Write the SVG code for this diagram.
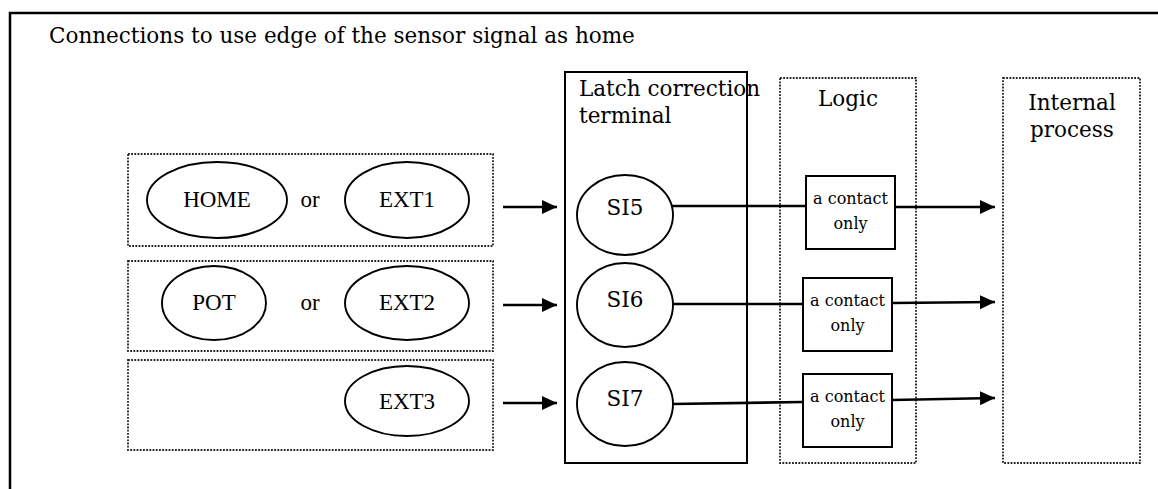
<svg xmlns="http://www.w3.org/2000/svg" width="1158" height="489" viewBox="0 0 1158 489">
<style>
.frame{fill:none;stroke:#000;stroke-width:2.5}
.dot{fill:none;stroke:#222;stroke-width:1.8;stroke-dasharray:1.8 1.4}
.solid{fill:#fff;stroke:#000;stroke-width:2}
.ell{fill:#fff;stroke:#000;stroke-width:1.9}
.cen{font-family:"DejaVu Serif","Liberation Serif",serif;fill:#000}
.tnr{font-family:"Liberation Serif","Times New Roman",serif;font-size:23px;fill:#000;text-anchor:middle}
.conn{fill:none;stroke:#000;stroke-width:2.6}
</style>
<defs>
<marker id="ah" markerUnits="userSpaceOnUse" markerWidth="16" markerHeight="15" refX="15" refY="7" orient="auto">
<path d="M0,0 L15,7 L0,14 z" fill="#000"/>
</marker>
</defs>
<rect class="frame" x="10" y="13" width="1170" height="500"/>
<text id="title" class="cen" x="49" y="43" font-size="21.5">Connections to use edge of the sensor signal as home</text>

<g id="group-home">
<rect class="dot" x="128" y="154" width="365" height="92"/>
</g>
<g id="node-home"><ellipse class="ell" cx="217" cy="200" rx="70" ry="38"/><text class="tnr" x="217" y="207">HOME</text></g>
<g id="or1"><text class="tnr" x="310" y="207">or</text></g>
<g id="node-ext1"><ellipse class="ell" cx="407" cy="200" rx="62" ry="38"/><text class="tnr" x="407" y="207">EXT1</text></g>

<g id="group-pot">
<rect class="dot" x="128" y="261" width="365" height="90"/>
</g>
<g id="node-pot"><ellipse class="ell" cx="214" cy="303" rx="52" ry="37"/><text class="tnr" x="214" y="310">POT</text></g>
<g id="or2"><text class="tnr" x="310" y="310">or</text></g>
<g id="node-ext2"><ellipse class="ell" cx="407" cy="303" rx="62" ry="37"/><text class="tnr" x="407" y="310">EXT2</text></g>

<g id="group-ext3">
<rect class="dot" x="128" y="360" width="365" height="90"/>
</g>
<g id="node-ext3"><ellipse class="ell" cx="407" cy="401" rx="62" ry="35"/><text class="tnr" x="407" y="409">EXT3</text></g>

<g id="latch">
<rect class="solid" x="565" y="72" width="182" height="391" fill="none"/>
<text class="cen" x="579" y="96" font-size="21.5">Latch correction</text>
<text class="cen" x="579" y="123" font-size="21.5">terminal</text>
</g>
<g id="node-si5"><ellipse class="ell" cx="625" cy="215" rx="48" ry="40"/><text class="cen" x="625" y="215" font-size="21.5" text-anchor="middle">SI5</text></g>
<g id="node-si6"><ellipse class="ell" cx="625" cy="305" rx="48" ry="42"/><text class="cen" x="625" y="307" font-size="21.5" text-anchor="middle">SI6</text></g>
<g id="node-si7"><ellipse class="ell" cx="625" cy="404" rx="48" ry="42"/><text class="cen" x="625" y="406" font-size="21.5" text-anchor="middle">SI7</text></g>

<g id="logic">
<rect class="dot" x="780" y="78" width="136" height="385"/>
<text class="cen" x="848" y="106" font-size="21.5" text-anchor="middle">Logic</text>
</g>
<g id="node-c1"><rect class="solid" x="806" y="176" width="89" height="73"/><text class="cen" x="850.5" y="204" font-size="16" text-anchor="middle">a contact</text><text class="cen" x="850.5" y="229" font-size="16" text-anchor="middle">only</text></g>
<g id="node-c2"><rect class="solid" x="803" y="278" width="89" height="73"/><text class="cen" x="847.5" y="306" font-size="16" text-anchor="middle">a contact</text><text class="cen" x="847.5" y="331" font-size="16" text-anchor="middle">only</text></g>
<g id="node-c3"><rect class="solid" x="803" y="374" width="89" height="73"/><text class="cen" x="847.5" y="402" font-size="16" text-anchor="middle">a contact</text><text class="cen" x="847.5" y="427" font-size="16" text-anchor="middle">only</text></g>

<g id="internal">
<rect class="dot" x="1003" y="78" width="137" height="385"/>
<text class="cen" x="1072" y="110" font-size="21.5" text-anchor="middle">Internal</text>
<text class="cen" x="1072" y="137" font-size="21.5" text-anchor="middle">process</text>
</g>

<g id="connectors">
<line class="conn" x1="503" y1="207" x2="557" y2="207" marker-end="url(#ah)"/>
<line class="conn" x1="503" y1="305" x2="557" y2="305" marker-end="url(#ah)"/>
<line class="conn" x1="503" y1="403" x2="557" y2="403" marker-end="url(#ah)"/>
<line class="conn" x1="672" y1="206" x2="806" y2="206"/>
<line class="conn" x1="895" y1="207" x2="995" y2="207" marker-end="url(#ah)"/>
<line class="conn" x1="672" y1="304" x2="803" y2="304"/>
<line class="conn" x1="892" y1="303" x2="995" y2="302" marker-end="url(#ah)"/>
<line class="conn" x1="672" y1="404" x2="803" y2="402"/>
<line class="conn" x1="892" y1="400" x2="995" y2="398" marker-end="url(#ah)"/>
</g>
</svg>
